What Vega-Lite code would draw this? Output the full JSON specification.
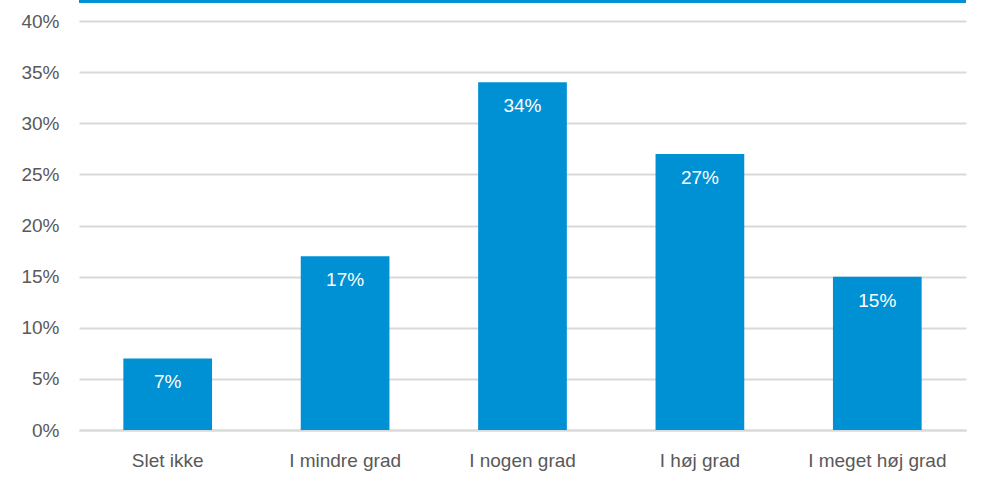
{
  "$schema": "https://vega.github.io/schema/vega-lite/v6.json",
  "autosize": {"type": "none"},
  "padding": {"left": 79, "top": 21, "right": 34, "bottom": 49},
  "width": 887,
  "height": 409,
  "config": {
    "view": {"stroke": null},
    "font": "Liberation Sans",
    "axis": {"labelFont": "Liberation Sans", "labelColor": "#595959", "labelFontSize": 19}
  },
  "data": {"values": [
    {"kategori": "Slet ikke", "andel": 0.07},
    {"kategori": "I mindre grad", "andel": 0.17},
    {"kategori": "I nogen grad", "andel": 0.34},
    {"kategori": "I høj grad", "andel": 0.27},
    {"kategori": "I meget høj grad", "andel": 0.15}
  ]},
  "layer": [
    {
      "mark": {"type": "bar", "color": "#0090D4"},
      "encoding": {
        "x": {"field": "kategori", "type": "nominal", "sort": null, "title": null,
          "scale": {"paddingInner": 0.5, "paddingOuter": 0.25},
          "axis": {"labelAngle": 0, "ticks": false, "domain": true, "domainColor": "#d9d9d9", "domainWidth": 2, "labelPadding": 21}},
        "y": {"field": "andel", "type": "quantitative", "title": null,
          "scale": {"domain": [0, 0.4]},
          "axis": {"format": ".0%", "values": [0,0.05,0.1,0.15,0.2,0.25,0.3,0.35,0.4], "labelOverlap": false, "ticks": false, "domain": false, "grid": true, "gridColor": "#d9d9d9", "gridWidth": 2, "labelPadding": 20}}
      }
    },
    {
      "mark": {"type": "text", "color": "white", "fontSize": 19, "font": "Liberation Sans", "baseline": "middle", "dy": 24},
      "encoding": {
        "x": {"field": "kategori", "type": "nominal", "sort": null},
        "y": {"field": "andel", "type": "quantitative", "axis": {"format": ".0%", "values": [0,0.05,0.1,0.15,0.2,0.25,0.3,0.35,0.4]}},
        "text": {"field": "andel", "type": "quantitative", "format": ".0%"}
      }
    },
    {
      "mark": {"type": "rule", "color": "#0090D4", "strokeWidth": 3, "clip": false},
      "encoding": {"y": {"datum": 0.4195}}
    }
  ]
}
